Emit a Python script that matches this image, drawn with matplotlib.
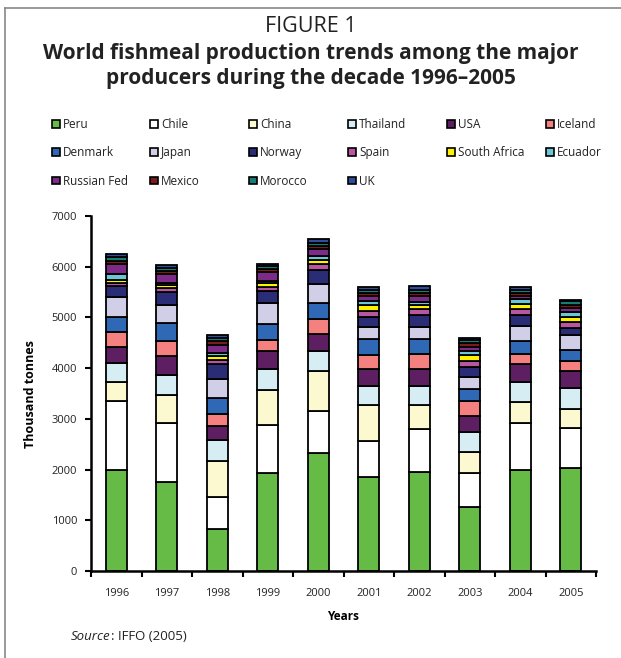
import matplotlib
matplotlib.use('Agg')
import matplotlib.pyplot as plt
from matplotlib.patches import Patch
from matplotlib.lines import Line2D
import numpy as np

plt.rcParams['font.family'] = ['Open Sans', 'DejaVu Sans']

years = ['1996', '1997', '1998', '1999', '2000', '2001', '2002', '2003', '2004', '2005']

countries = ['Peru', 'Chile', 'China', 'Thailand', 'USA', 'Iceland', 'Denmark', 'Japan',
             'Norway', 'Spain', 'South Africa', 'Ecuador', 'Russian Fed', 'Mexico', 'Morocco', 'UK']

peru         = [2000, 1760, 825, 1925, 2330, 1860, 1960, 1260, 1990, 2035]
chile        = [1350, 1160, 635, 955, 825, 700, 835, 673, 929, 786]
china        = [385, 560, 700, 690, 790, 710, 469, 404, 404, 374]
thailand     = [375, 375, 414, 414, 394, 375, 375, 395, 395, 405]
usa          = [305, 394, 286, 355, 326, 345, 345, 325, 365, 345]
iceland      = [296, 277, 227, 217, 305, 266, 296, 286, 197, 197]
denmark      = [296, 355, 315, 316, 316, 316, 296, 237, 256, 217]
japan        = [394, 355, 375, 404, 375, 237, 237, 246, 296, 296]
norway       = [227, 266, 296, 237, 276, 197, 236, 198, 217, 138]
spain        = [60, 70, 90, 90, 110, 115, 118, 108, 108, 108]
south_africa = [50, 60, 80, 80, 90, 115, 80, 118, 108, 108]
ecuador      = [110, 50, 60, 40, 80, 90, 60, 79, 89, 99]
russian_fed  = [205, 170, 160, 180, 130, 90, 118, 79, 59, 69]
mexico       = [60, 60, 70, 60, 70, 70, 60, 79, 69, 69]
morocco      = [70, 70, 70, 50, 60, 60, 60, 69, 59, 69]
uk           = [70, 60, 60, 40, 60, 45, 65, 34, 65, 30]

series = [peru, chile, china, thailand, usa, iceland, denmark, japan,
          norway, spain, south_africa, ecuador, russian_fed, mexico, morocco, uk]

colors = ['#66BB46', '#FFFFFF', '#FCF8D0', '#D6EEF3', '#5E1F62', '#F48180',
          '#2F68B4', '#D1CEE7', '#2A2C76', '#B8569F', '#FFF200', '#6CC6D3',
          '#7E2A88', '#7A1C1C', '#157D75', '#2E4E9C']

W, H = 621, 658
fig = plt.figure(figsize=(W / 100, H / 100), dpi=100)

def fx(px):
    return px / W

def fy(py):
    return 1 - py / H

# frame lines (top and left)
fig.add_artist(Line2D([fx(5), 1.0], [fy(8), fy(8)], color='#888888', lw=1.2))
fig.add_artist(Line2D([fx(5), fx(5)], [fy(8), 0.0], color='#888888', lw=1.2))

# titles
fig.text(0.5, fy(27), 'FIGURE 1', ha='center', va='center', fontsize=15.5, color='#222222')
fig.text(0.5, fy(66), 'World fishmeal production trends among the major\nproducers during the decade 1996–2005',
         ha='center', va='center', fontsize=15, fontweight='bold', color='#222222', linespacing=1.2)

# axes
ax = fig.add_axes([fx(91), fy(571), fx(596) - fx(91), fy(216) - fy(571)])
x = np.arange(len(years))
bottom = np.zeros(len(years))
for name, vals, col in zip(countries, series, colors):
    v = np.array(vals, dtype=float)
    ax.bar(x, v, bottom=bottom, width=0.41, color=col, edgecolor='black', linewidth=1.3, label=name)
    bottom += v

ax.set_xlim(-0.5, len(years) - 0.5)
ax.set_ylim(0, 7000)
ax.set_yticks(np.arange(0, 7001, 1000))
ax.set_xticks(np.arange(-0.5, len(years), 1.0))
ax.set_xticklabels([])
ax.set_xticks(x, minor=True)
ax.set_xticklabels(years, minor=True)
ax.tick_params(axis='x', which='minor', length=0, pad=12, labelsize=8, colors='#222222')
ax.tick_params(axis='x', which='major', length=4, width=1.5, direction='out')
ax.tick_params(axis='y', length=4, width=1.5, direction='out', pad=6, labelsize=8, labelcolor='#222222')
for s in ['top', 'right']:
    ax.spines[s].set_visible(False)
for s in ['left', 'bottom']:
    ax.spines[s].set_linewidth(1.8)
ax.set_xlabel('Years', fontsize=8.5, fontweight='bold', labelpad=8)
fig.text(fx(30), fy(394), 'Thousand tonnes', rotation=90, ha='center', va='center',
         fontsize=9, fontweight='bold')

# legend: six columns, filled row-wise
col_x = [52, 150, 249, 348, 447, 546]
handles = [Patch(facecolor=c, edgecolor='black', linewidth=1.2) for c in colors]
for c in range(6):
    idx = list(range(c, len(countries), 6))
    leg = fig.legend([handles[i] for i in idx], [countries[i] for i in idx],
                     loc='upper left', bbox_to_anchor=(fx(col_x[c]), fy(118)),
                     frameon=False, fontsize=8.5, handlelength=0.65, handleheight=0.65,
                     handletextpad=0.3, labelspacing=1.3, borderpad=0, borderaxespad=0)
    for t in leg.get_texts():
        t.set_color('#222222')

# source
t1 = fig.text(fx(71), fy(636), 'Source', style='italic', fontsize=9.5, va='center', ha='left', color='#222222')
ax.annotate(': IFFO (2005)', xy=(1, 0.5), xycoords=t1, va='center', ha='left',
            fontsize=9.5, color='#222222', annotation_clip=False)

fig.savefig('out.png', dpi=100)
